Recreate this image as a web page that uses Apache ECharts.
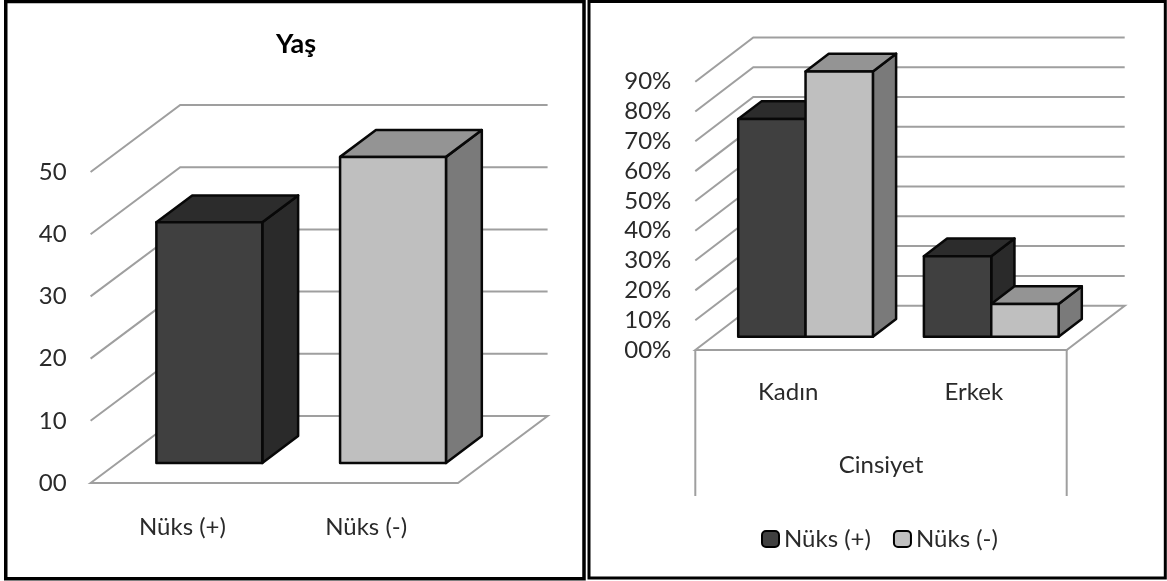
<!DOCTYPE html>
<html>
<head>
<meta charset="utf-8">
<style>html,body{margin:0;padding:0;background:#fff}#chart{width:1167px;height:581px}</style>
<script src="https://cdn.jsdelivr.net/npm/echarts@6/dist/echarts.min.js"></script>
</head>
<body>
<div id="chart"></div>
<script>
// Age panel
const yasCategories = ['Nüks (+)', 'Nüks (-)'];
const yasValues = [38.7, 49.2];
const yasTicks = [0, 10, 20, 30, 40, 50];
const yasTickLabels = ['00', '10', '20', '30', '40', '50'];

// Sex panel
const cinsiyetCategories = ['Kadın', 'Erkek'];
const nuksPozitif = [73, 27];
const nuksNegatif = [89, 11];
const cinsiyetTicks = [0, 10, 20, 30, 40, 50, 60, 70, 80, 90];
const cinsiyetTickLabels = ['00%', '10%', '20%', '30%', '40%', '50%', '60%', '70%', '80%', '90%'];

const FONT = 'Lato';
const TEXT = '#2a2a2a';
const GRID = '#9f9f9f';
const DARK = { front: '#404040', top: '#2c2c2c', side: '#2a2a2a' };
const LIGHT = { front: '#bfbfbf', top: '#949494', side: '#7a7a7a' };
const LABEL_SIZE = 24;

// Oblique box: offset of the floor's far edge, relative to its near edge.
function wallItem(depth, legs) {
  return function (params, api) {
    const cs = params.coordSys;
    const v = api.value(1);
    const y = api.coord([0, v])[1];
    const L = cs.x, R = cs.x + cs.width;
    const children = [];
    const style = { stroke: GRID, lineWidth: 2, fill: null };
    if (v === 0) {
      children.push({
        type: 'polygon', silent: true,
        shape: { points: [[L, y], [L + depth.dx, y - depth.dy], [R + depth.dx, y - depth.dy], [R, y]] },
        style
      });
      if (legs) {
        children.push({ type: 'line', silent: true, shape: { x1: L, y1: y, x2: L, y2: y + legs }, style });
        children.push({ type: 'line', silent: true, shape: { x1: R, y1: y, x2: R, y2: y + legs }, style });
      }
    } else {
      children.push({
        type: 'polyline', silent: true,
        shape: { points: [[L, y], [L + depth.dx, y - depth.dy], [R + depth.dx, y - depth.dy]] },
        style
      });
    }
    return { type: 'group', children };
  };
}

// Box standing on the floor between two depth fractions, centred in its category band.
function boxItem(depth, barShare, slot, slots, paletteOf) {
  return function (params, api) {
    const cat = api.value(0);
    const band = api.size([1, 0])[0];
    const top = api.coord([cat, api.value(1)]);
    const base = api.coord([cat, 0]);
    const w = band * barShare;
    const near = 0.3, far = 0.7;
    const nx = depth.dx * near, ny = depth.dy * near;
    const fx = depth.dx * (far - near), fy = depth.dy * (far - near);
    const left = top[0] - w * slots / 2 + w * slot + nx;
    const right = left + w;
    const yt = top[1] - ny, yb = base[1] - ny;
    const p = paletteOf(params.dataIndex);
    const edge = { stroke: '#080808', lineWidth: 2.5, lineJoin: 'round' };
    const face = (points, fill) => ({
      type: 'polygon', silent: true, shape: { points },
      style: Object.assign({ fill }, edge)
    });
    return {
      type: 'group',
      children: [
        face([[right, yt], [right + fx, yt - fy], [right + fx, yb - fy], [right, yb]], p.side),
        face([[left, yt], [left + fx, yt - fy], [right + fx, yt - fy], [right, yt]], p.top),
        face([[left, yt], [right, yt], [right, yb], [left, yb]], p.front)
      ]
    };
  };
}

const yasDepth = { dx: 89.6, dy: 67 };
const cinsDepth = { dx: 58, dy: 44.3 };

const yAxisBase = {
  type: 'value', min: 0, interval: 10,
  axisLine: { show: false }, axisTick: { show: false }, splitLine: { show: false },
  axisLabel: { color: TEXT, fontFamily: FONT, fontSize: LABEL_SIZE, margin: 24, padding: [4, 0, 0, 0] }
};
const xAxisBase = {
  type: 'category',
  axisLine: { show: false }, axisTick: { show: false }, splitLine: { show: false },
  axisLabel: { color: TEXT, fontFamily: FONT, fontSize: LABEL_SIZE, interval: 0 }
};
const panel = (x, y, width, height, lineWidth) => ({
  type: 'rect', silent: true, z: -1,
  shape: { x, y, width, height },
  style: { fill: '#fff', stroke: '#000', lineWidth }
});

const chart = echarts.init(document.getElementById('chart'), null, { renderer: 'canvas' });
chart.setOption({
  animation: false,
  backgroundColor: '#fff',
  graphic: [panel(5.75, 1.5, 578.25, 577.2, 3.5), panel(589, 1.5, 576.3, 576.5, 3)],
  title: {
    text: 'Yaş', left: 291, top: 26, textAlign: 'center',
    textStyle: { color: '#000', fontFamily: FONT, fontWeight: 'bold', fontSize: 27 }
  },
  legend: {
    data: ['Nüks (+)', 'Nüks (-)'],
    left: 756, top: 522, itemWidth: 17, itemHeight: 16, itemGap: 22,
    itemStyle: { borderColor: '#000', borderWidth: 2 },
    textStyle: { color: TEXT, fontFamily: FONT, fontSize: LABEL_SIZE },
    selectedMode: false
  },
  tooltip: { show: false },
  grid: [
    { left: 90.6, top: 172, width: 367.4, height: 311 },
    { left: 695.3, top: 81.7, width: 371.4, height: 268.3 }
  ],
  xAxis: [
    Object.assign({}, xAxisBase, { gridIndex: 0, data: yasCategories,
      axisLabel: Object.assign({}, xAxisBase.axisLabel, { margin: 32 }) }),
    Object.assign({}, xAxisBase, { gridIndex: 1, data: cinsiyetCategories,
      axisLabel: Object.assign({}, xAxisBase.axisLabel, { margin: 30 }),
      name: 'Cinsiyet', nameLocation: 'middle', nameGap: 103,
      nameTextStyle: { color: TEXT, fontFamily: FONT, fontSize: LABEL_SIZE } })
  ],
  yAxis: [
    Object.assign({}, yAxisBase, { gridIndex: 0, max: 50,
      axisLabel: Object.assign({}, yAxisBase.axisLabel, { formatter: v => yasTickLabels[yasTicks.indexOf(v)] }) }),
    Object.assign({}, yAxisBase, { gridIndex: 1, max: 90,
      axisLabel: Object.assign({}, yAxisBase.axisLabel, { formatter: v => cinsiyetTickLabels[cinsiyetTicks.indexOf(v)] }) })
  ],
  series: [
    {
      name: 'walls-yas', type: 'custom', xAxisIndex: 0, yAxisIndex: 0, silent: true, z: 1,
      data: yasTicks.map(t => [0, t]),
      renderItem: wallItem(yasDepth)
    },
    {
      name: 'Yaş', type: 'custom', xAxisIndex: 0, yAxisIndex: 0, silent: true, z: 2,
      data: yasValues.map((v, i) => [i, v]),
      renderItem: boxItem(yasDepth, 0.5765, 0, 1, i => (i === 0 ? DARK : LIGHT))
    },
    {
      name: 'walls-cinsiyet', type: 'custom', xAxisIndex: 1, yAxisIndex: 1, silent: true, z: 1,
      data: cinsiyetTicks.map(t => [0, t]),
      renderItem: wallItem(cinsDepth, 146)
    },
    {
      name: 'Nüks (+)', type: 'custom', xAxisIndex: 1, yAxisIndex: 1, silent: true, z: 2,
      itemStyle: { color: DARK.front },
      data: nuksPozitif.map((v, i) => [i, v]),
      renderItem: boxItem(cinsDepth, 0.3627, 0, 2, () => DARK)
    },
    {
      name: 'Nüks (-)', type: 'custom', xAxisIndex: 1, yAxisIndex: 1, silent: true, z: 3,
      itemStyle: { color: LIGHT.front },
      data: nuksNegatif.map((v, i) => [i, v]),
      renderItem: boxItem(cinsDepth, 0.3627, 1, 2, () => LIGHT)
    }
  ]
});
</script>
</body>
</html>
